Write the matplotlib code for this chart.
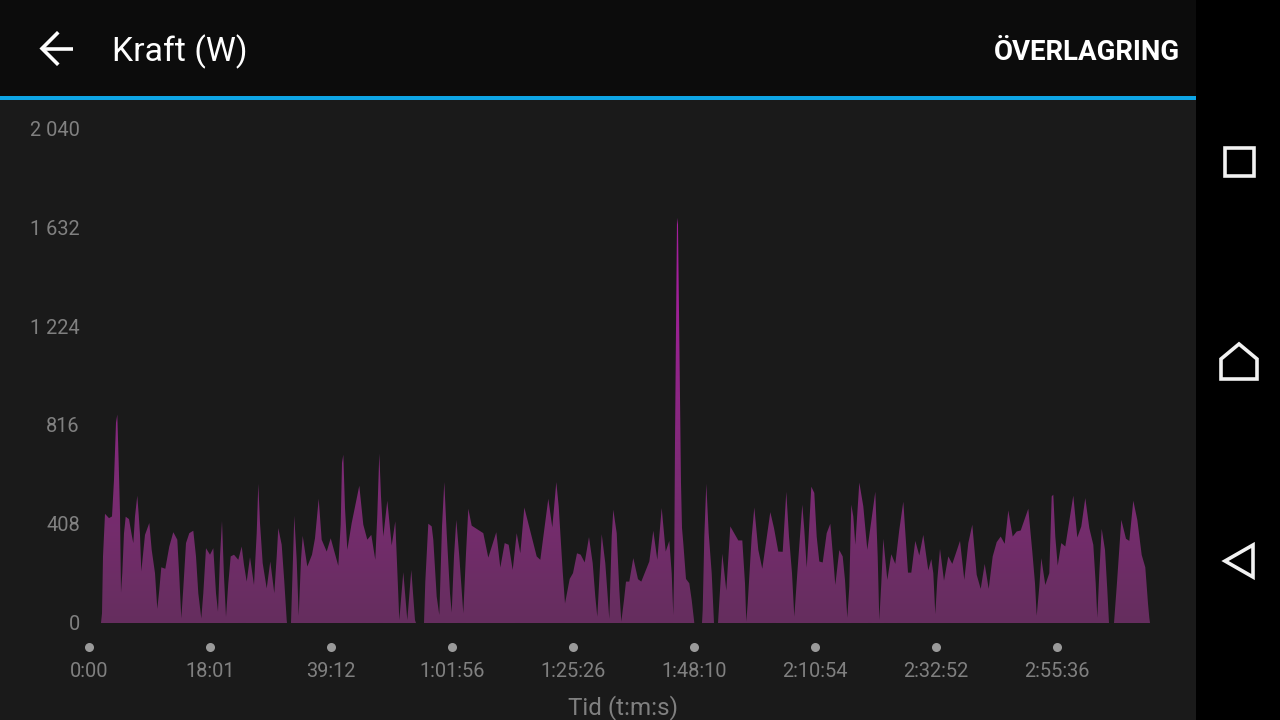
import numpy as np
import matplotlib
matplotlib.use('Agg')
import matplotlib.pyplot as plt
from matplotlib.colors import LinearSegmentedColormap
from matplotlib.patches import Rectangle, Polygon
from matplotlib.transforms import ScaledTranslation

plt.rcParams['font.family'] = ['Roboto', 'DejaVu Sans']

# position along the axis (one tick step = 121 units) and power in watts
pos = [12, 13, 14, 16, 20, 23, 25, 27, 28.3, 29.7, 31, 32, 33.3, 35, 36.7, 40, 42.7, 44.3, 46, 47.3, 48.3, 49.7, 51, 52.3,
       56, 60.3, 62.7, 66, 68.3, 70.3, 72.3, 76.3, 80.3, 84.3, 88.3, 90.3, 92.3, 94.3, 97, 100.3, 104.3, 107, 109.3,
       112.3, 114.3, 117, 121, 124.3, 127, 129, 131, 133, 135, 137, 139.3, 141.7, 145, 149.3, 152.7, 155, 157.7, 161,
       165, 167.7, 169.3, 171, 173.7, 177.7, 181.3, 185.3, 187.7, 189.3, 192.7, 195.3, 197.7, 198, 202, 202.7, 205.3,
       207.7, 209.7, 212, 213.7, 218.3, 223, 226, 229.7, 232.7, 237.7, 241.7, 249.3, 251.7, 253, 254.3, 256, 258.3,
       262.7, 270.3, 274.3, 278.3, 282.3, 286.3, 288.3, 290.3, 292, 294.3, 298.3, 302.7, 306.3, 309.3, 310.3, 314.3,
       318.3, 322.3, 326, 327, 335, 336.3, 339.3, 342.7, 344.3, 347.7, 350.3, 353, 355.3, 357.7, 361, 362.7, 365, 367.3,
       370.3, 374.3, 377, 379.3, 382.7, 394.3, 399.3, 407.3, 411.3, 415.7, 419.7, 423.7, 427.7, 431.3, 435.3, 447.7,
       451.3, 459.3, 463.3, 467.3, 469.7, 473.7, 476, 480.7, 484, 488, 491.7, 495.7, 500, 503.7, 506.3, 508.3, 512.7,
       516.3, 520.3, 522.7, 524.3, 527.7, 530.3, 532.3, 535, 537, 540.3, 544.3, 549, 552.3, 560.3, 564.3, 568.3, 572.7,
       576.7, 580.3, 582.7, 584.3, 585.3, 586, 587, 588, 589, 590, 591, 592, 593, 594.3, 597, 600.3, 602.7, 605, 605.3,
       613, 613.7, 615.3, 617.3, 619.7, 622.7, 625, 629, 630.3, 633.3, 637.3, 641.3, 649.3, 653.3, 656, 657.3, 658.7,
       662.7, 665.3, 669.3, 673.3, 681.3, 685, 689.3, 693.7, 697.3, 700, 703, 705.3, 708.3, 713.3, 715.3, 717.7, 719.3,
       722.3, 725.3, 727.7, 730.3, 733.7, 737.7, 741.3, 744.3, 746.3, 750.3, 753.7, 756, 758.3, 760.3, 762.3, 764.3,
       766.3, 770.3, 774.3, 778.3, 786.3, 788.7, 790.3, 792.3, 794.3, 798.3, 802.3, 806.3, 810.3, 814.3, 819, 822.3,
       826.3, 830.3, 834.3, 839.3, 842.3, 844.3, 846.3, 848.3, 851, 855, 859.3, 863.3, 871, 875.3, 879.3, 883.3, 887.7,
       891.7, 895.7, 899.7, 903.7, 907.7, 911.7, 915.7, 919.3, 923.7, 927.7, 931.7, 939.3, 943.3, 946, 947.7, 950.3,
       952.3, 956.3, 960.3, 962.7, 964.3, 966.3, 968.7, 972.3, 976.3, 984.3, 988.3, 992.3, 996.3, 1000.3, 1004.3,
       1006.7, 1008.3, 1010.3, 1012.7, 1016, 1018.3, 1020, 1025, 1027.7, 1032.3, 1037, 1040.3, 1044.3, 1048.3, 1052.7,
       1056.3, 1059, 1060.3, 1061]
watts = [0, 40, 275, 451, 433, 440, 592, 827, 861, 661, 454, 126, 206, 371, 439, 429, 364, 330, 440, 489, 526, 447, 364, 213,
         364, 413, 302, 206, 58, 137, 230, 224, 316, 375, 344, 192, 19, 144, 330, 371, 381, 275, 123,
         19, 123, 309, 282, 309, 123, 47, 275, 422, 192, 26, 164, 275, 282, 261, 316, 240, 171, 272,
         157, 371, 575, 413, 247, 143, 254, 123, 275, 392, 323, 171, 12, 0, 0, 95, 443,
         261, 29, 261, 360, 233, 282, 350, 513, 344, 295, 350, 236, 406, 661, 695, 475, 302,
         413, 567, 406, 344, 364, 261, 447, 700, 523, 357, 505, 320, 420, 116, 12, 210,
         12, 219, 12, 0, 0, 171, 410, 399, 344, 109, 33, 399, 582, 371, 123, 43, 275, 426,
         275, 40, 288, 472, 402, 371, 270, 375, 229, 330, 323, 219, 371, 288, 477, 275,
         261, 513, 395, 582, 482, 213, 81, 182, 206, 288, 282, 250, 355, 247, 109, 26, 367,
         247, 17, 357, 468, 371, 137, 6, 95, 171, 171, 268, 181, 171, 254, 381, 261, 475,
         295, 339, 206, 33, 295, 752, 1214, 1673, 1645, 1289, 933, 578, 393, 330, 182, 164, 95, 12, 0,
         0, 54, 357, 575, 371, 206, 0, 0, 88, 286, 134, 399, 341, 341, 164, 6, 81,
         357, 477, 302, 224, 458, 392, 295, 294, 542, 357, 206, 26, 206, 489, 385, 229, 330,
         563, 537, 357, 254, 250, 371, 410, 261, 157, 301, 275, 178, 22, 150, 489, 440,
         323, 580, 482, 302, 542, 275, 12, 164, 348, 178, 284, 244, 385, 501, 208, 208,
         339, 279, 364, 217, 264, 206, 37, 178, 306, 175, 275, 244, 339, 178, 330, 406, 199,
         141, 244, 141, 275, 334, 357, 327, 465, 357, 378, 382, 472, 295, 164, 30, 150,
         268, 157, 206, 523, 530, 357, 237, 330, 316, 526, 353, 399, 516, 392, 323,
         164, 22, 206, 389, 302, 137, 0, 0, 150, 426, 348, 339, 505, 426, 281,
         230, 81, 22, 0]

y_ticks = [0, 408, 816, 1224, 1632, 2040]
y_labels = ['0', '408', '816', '1 224', '1 632', '2 040']
x_ticks = [0, 121, 242, 363, 484, 605, 726, 847, 968]
x_labels = ['0:00', '18:01', '39:12', '1:01:56', '1:25:26', '1:48:10', '2:10:54', '2:32:52', '2:55:36']

W, H = 1280, 720
fig = plt.figure(figsize=(W / 100, H / 100), dpi=100, facecolor='#1a1a1a')

# screen furniture, in pixel coordinates
bg = fig.add_axes([0, 0, 1, 1])
bg.set_xlim(0, W)
bg.set_ylim(H, 0)
bg.axis('off')
bg.add_patch(Rectangle((0, 0), W, 97, color='#0c0c0c', lw=0))
bg.add_patch(Rectangle((0, 96), 1196, 4, color='#0ea5e6', lw=0))
bg.add_patch(Rectangle((1196, 0), 84, H, color='#000000', lw=0))

white = '#f2f2f2'
bg.plot([42, 73], [48.5, 48.5], color='white', lw=2.6, solid_capstyle='butt')
bg.plot([57, 42, 57], [33.5, 48.5, 63.5], color='white', lw=2.6, solid_joinstyle='miter')
bg.add_patch(Rectangle((1224.5, 147.5), 29, 28, fill=False, ec=white, lw=2.6))
bg.add_patch(Polygon([(1239, 344), (1257, 359), (1257, 379), (1221, 379), (1221, 359)], fill=False, ec=white, lw=2.6))
bg.add_patch(Polygon([(1225, 561), (1253, 545), (1253, 577)], fill=False, ec=white, lw=2.6))

bg.text(112.5, 51.5, 'Kraft (W)', color='white', fontsize=24.3, va='center', ha='left')
bg.text(1180, 52, 'ÖVERLAGRING', color='white', fontsize=19.9, fontweight='bold', va='center', ha='right')

# chart area, zero line at y=623 and top tick at y=129
ax = fig.add_axes([89 / W, (H - 623) / H, 1061 / W, 494 / H])
ax.patch.set_alpha(0)
for s in ax.spines.values():
    s.set_visible(False)

# colour follows the height of the fill, brightest on the big spike
cmap = LinearSegmentedColormap.from_list('kraft', [(0, '#652e5e'), (0.3, '#7d2b75'), (0.7, '#a41f9c'), (1, '#a41f9c')])
grad = np.linspace(0, 1, 256).reshape(-1, 1)
poly = ax.fill_between(pos, 0, watts, color='none', lw=0)
img = ax.imshow(grad, origin='lower', aspect='auto', cmap=cmap, extent=(0, 1061, 0, 2040), zorder=2)
img.set_clip_path(poly.get_paths()[0], transform=ax.transData)
ax.set_xlim(0, 1061)
ax.set_ylim(0, 2040)

grey = '#808080'
ax.set_yticks(y_ticks, y_labels)
ax.set_xticks(x_ticks, x_labels)
ax.tick_params(axis='y', length=0, pad=6.5, labelsize=14.4, labelcolor=grey)
ax.tick_params(axis='x', length=0, pad=28, labelsize=14.4, labelcolor=grey)
nudge = ScaledTranslation(0, 0.6 / 100, fig.dpi_scale_trans)
for lab in ax.get_yticklabels():
    lab.set_transform(lab.get_transform() + nudge)
ax.plot(x_ticks, [-99] * len(x_ticks), 'o', color='#9a9a9a', ms=6.5, mew=0, clip_on=False)

bg.text(622.5, 707.5, 'Tid (t:m:s)', color=grey, fontsize=17.4, va='center', ha='center')

fig.savefig('out.png', dpi=100, facecolor=fig.get_facecolor())
